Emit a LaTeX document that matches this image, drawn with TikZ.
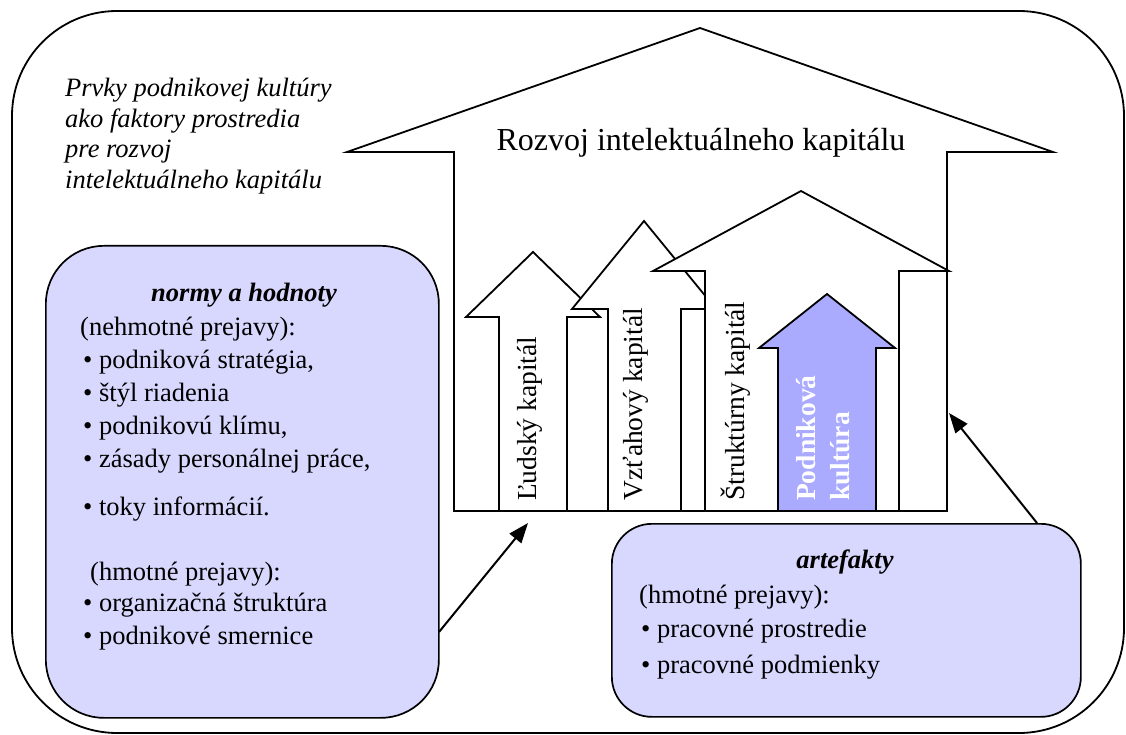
\documentclass[tikz,border=0pt]{standalone}
\usepackage{fontspec}
\setmainfont{Liberation Serif}
\usetikzlibrary{arrows.meta}
\definecolor{panelfill}{RGB}{216,216,255}
\definecolor{culturefill}{RGB}{170,170,255}
\begin{document}
\begin{tikzpicture}[x=1pt,y=-1pt,
  framebox/.style={draw=black,line width=1.8pt},
  upshape/.style={draw=black,line width=1.8pt,line join=miter,fill=white},
  panel/.style={draw=black,line width=1.7pt,fill=panelfill,inner sep=0pt,anchor=north west},
  capital/.style={rotate=90,anchor=west,inner sep=0pt,font=\fontsize{27.5}{33}\selectfont},
  body/.style={anchor=base west,inner sep=0pt,font=\fontsize{26.5}{30}\selectfont},
  heading/.style={anchor=base,inner sep=0pt,font=\fontsize{26.5}{30}\selectfont\bfseries\itshape},
  note/.style={anchor=base west,inner sep=0pt,font=\fontsize{26.5}{31}\selectfont\itshape},
  link/.style={draw=black,line width=2pt,-{Triangle[length=20pt,width=15pt]}},
]
\useasboundingbox (0,0) rectangle (1126,735);
\fill[white] (0,0) rectangle (1126,735);

% outer rounded frame
\draw[framebox,rounded corners=105pt] (12,11) rectangle (1124,733);

% caption in the upper left corner
\node[note] (cap1) at (65,97)  {Prvky podnikovej kultúry};
\node[note] (cap2) at (65,128) {ako faktory prostredia};
\node[note] (cap3) at (65,158) {pre rozvoj};
\node[note] (cap4) at (65,189) {intelektuálneho kapitálu};

% large arrow: development of intellectual capital
\draw[upshape] (454,511) -- (454,152) -- (347,152) -- (700,28) -- (1053,152)
  -- (947,152) -- (947,511) -- cycle;
\node[anchor=base,inner sep=0pt,font=\fontsize{32}{38}\selectfont] (title) at (701,151)
  {Rozvoj intelektuálneho kapitálu};

% human capital
\draw[upshape] (499,511) -- (499,317) -- (466,317) -- (533,252) -- (600,317)
  -- (567,317) -- (567,511) -- cycle;
% relational capital
\draw[upshape] (608,511) -- (608,309) -- (572,309) -- (644,221) -- (716,309)
  -- (681,309) -- (681,511) -- cycle;
% structural capital
\draw[upshape] (705,511) -- (705,271) -- (653,271) -- (801,191) -- (949,271)
  -- (899,271) -- (899,511) -- cycle;
% corporate culture
\draw[upshape,fill=culturefill] (778,511) -- (778,348) -- (759,348) -- (827,294)
  -- (895,348) -- (876,348) -- (876,511) -- cycle;

\node[capital] (human) at (530,501) {Ľudský kapitál};
\node[capital] (relational) at (636,501) {Vzťahový kapitál};
\node[capital] (structural) at (736,501) {Štruktúrny kapitál};
\node[capital,align=left,text=white,font=\fontsize{27.5}{34}\selectfont\bfseries]
  (culture) at (823,501) {Podniková\\kultúra};

% panel: norms and values
\node[panel,rounded corners=58pt,minimum width=393pt,minimum height=472pt]
  (norms) at (45,245) {};
\node[heading] (normsHead) at (244,301) {normy a hodnoty};
\node[body] (n1) at (80,335) {(nehmotné prejavy):};
\node[body] (n2) at (83,368) {• podniková stratégia,};
\node[body] (n3) at (83,401) {• štýl riadenia};
\node[body] (n4) at (83,434) {• podnikovú klímu,};
\node[body] (n5) at (83,467) {• zásady personálnej práce,};
\node[body] (n6) at (83,515) {• toky informácií.};
\node[body] (n7) at (90,580) {(hmotné prejavy):};
\node[body] (n8) at (83,611) {• organizačná štruktúra};
\node[body] (n9) at (83,644) {• podnikové smernice};

% panel: artefacts
\node[panel,rounded corners=40pt,minimum width=469pt,minimum height=193pt]
  (artefacts) at (611,523) {};
\node[heading] (artHead) at (845,568) {artefakty};
\node[body] (a1) at (639,603) {(hmotné prejavy):};
\node[body] (a2) at (641,637) {• pracovné prostredie};
\node[body] (a3) at (641,673) {• pracovné podmienky};

% influence arrows
\coordinate (normsOut) at (439,632);
\coordinate (humanIn) at (528,523);
\coordinate (artOut) at (1037,523);
\coordinate (growthIn) at (949,413);
\draw[link] (normsOut) -- (humanIn);
\draw[link] (artOut) -- (growthIn);
\end{tikzpicture}
\end{document}
